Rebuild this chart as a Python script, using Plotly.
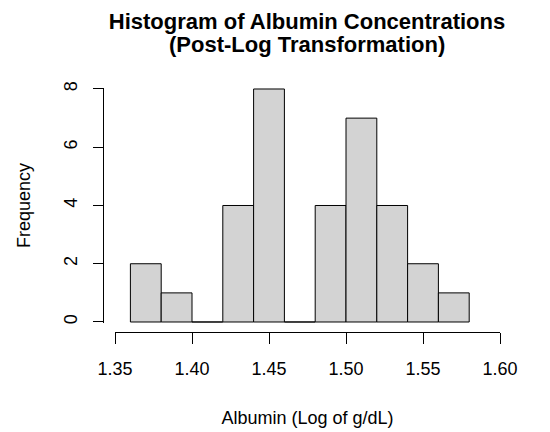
import plotly.graph_objects as go

bin_edges = [1.36, 1.38, 1.40, 1.42, 1.44, 1.46, 1.48, 1.50, 1.52, 1.54, 1.56, 1.58]
counts = [2, 1, 0, 4, 8, 0, 4, 7, 4, 2, 1]
x_ticks = [1.35, 1.40, 1.45, 1.50, 1.55, 1.60]
x_tick_labels = ["1.35", "1.40", "1.45", "1.50", "1.55", "1.60"]
y_ticks = [0, 2, 4, 6, 8]
title_lines = ["Histogram of Albumin Concentrations", "(Post-Log Transformation)"]

centers = [(a + b) / 2 for a, b in zip(bin_edges[:-1], bin_edges[1:])]
widths = [b - a for a, b in zip(bin_edges[:-1], bin_edges[1:])]

W, H = 550, 432
FONT = "Liberation Sans, Arial, sans-serif"

fig = go.Figure(go.Bar(
    x=centers, y=counts, width=widths,
    marker=dict(color="#D3D3D3", line=dict(color="black", width=1)),
    hoverinfo="x+y",
))

pad = 0.04
fig.update_layout(
    width=W, height=H,
    margin=dict(l=0, r=0, t=0, b=0),
    paper_bgcolor="white", plot_bgcolor="white",
    showlegend=False,
    font=dict(family=FONT, color="black", size=18),
    xaxis=dict(
        domain=[115 / W, 500 / W],
        range=[1.35, 1.60],
        anchor="free", position=1 - 332 / H,
        automargin=False,
        tickvals=x_ticks, ticktext=x_tick_labels,
        ticks="outside", ticklen=11, tickwidth=1, tickcolor="black",
        showline=True, linecolor="black", linewidth=1,
        showgrid=False, zeroline=False,
        tickfont=dict(size=18),
        ticklabelstandoff=9,
        title=dict(text="Albumin (Log of g/dL)", font=dict(size=18), standoff=33),
    ),
    yaxis=dict(
        domain=[1 - (322 + pad * 29.1) / H, 1 - (89 - pad * 29.1) / H],
        range=[-pad, 8 + pad],
        anchor="free", position=103 / W,
        automargin=False,
        tickvals=y_ticks,
        ticks="outside", ticklen=10, tickwidth=1, tickcolor="black",
        showline=True, linecolor="black", linewidth=1,
        showgrid=False, zeroline=False,
        tickangle=-90,
        tickfont=dict(size=18),
        ticklabelstandoff=9,
        title=dict(text="Frequency", font=dict(size=18), standoff=24),
    ),
    title=dict(
        text="<b>" + title_lines[0] + "</b>",
        x=307 / W, xanchor="center",
        y=1 - 21 / H, yanchor="middle",
        font=dict(size=22, family=FONT),
    ),
    annotations=[dict(
        text="<b>" + title_lines[1] + "</b>",
        xref="paper", yref="paper",
        x=307 / W, xanchor="center",
        y=1 - 45 / H, yanchor="middle",
        showarrow=False,
        font=dict(size=22, family=FONT, color="black"),
    )],
)

fig.write_html("out.html")
